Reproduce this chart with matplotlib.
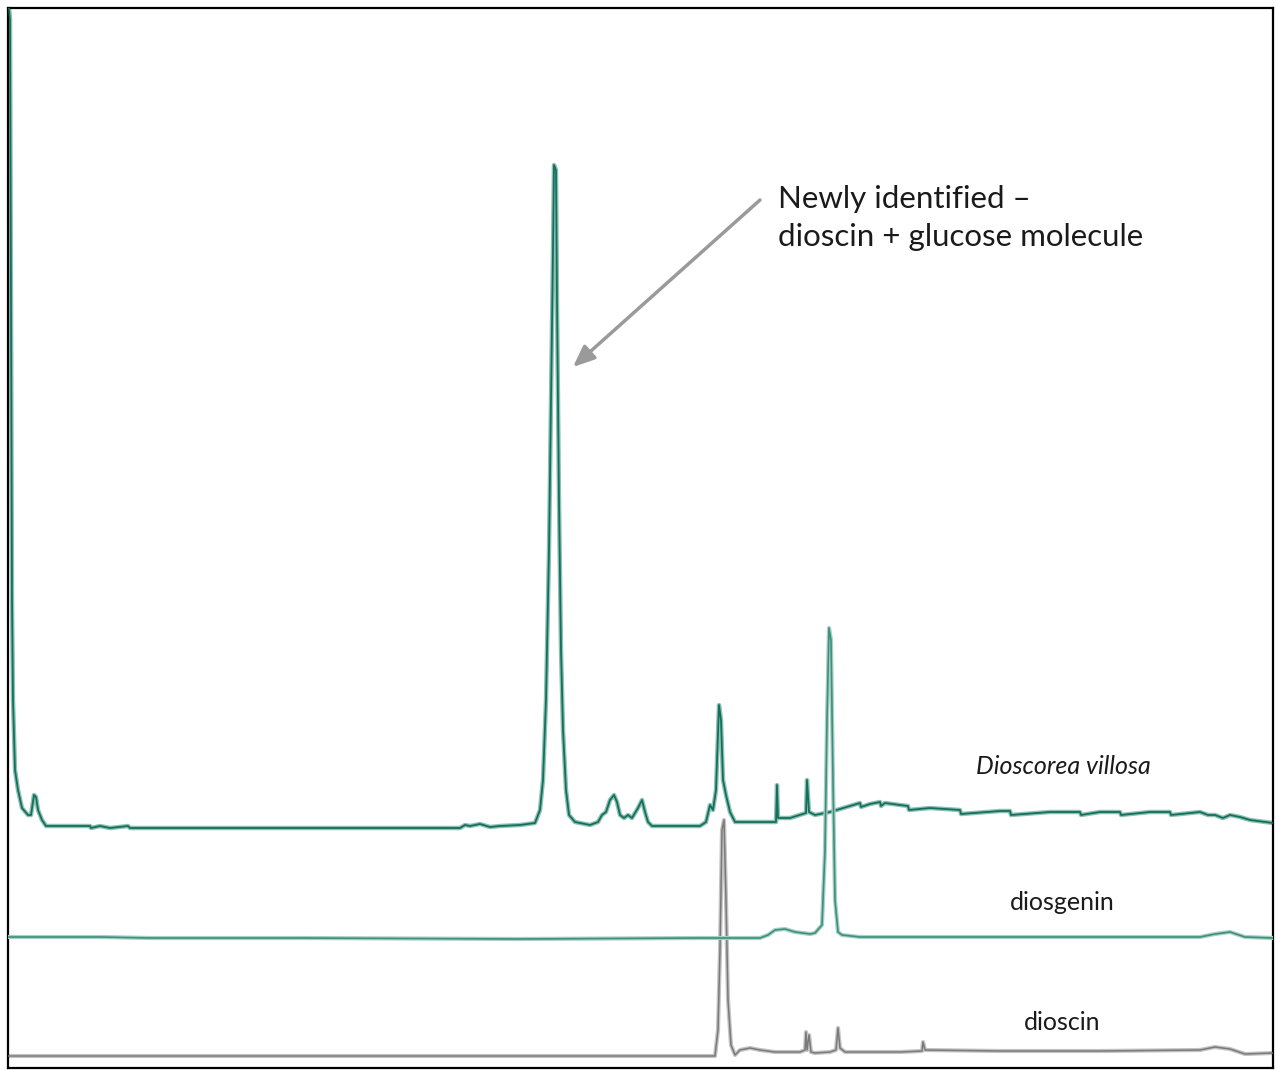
import numpy as np
import matplotlib
matplotlib.use('Agg')
import matplotlib.pyplot as plt

# traces: retention position (px from left frame) and height (px above bottom frame)
# Dioscorea villosa extract
villosa_x = [1, 2, 3, 4, 5, 7, 10, 14, 20, 23, 26, 28, 30, 34, 38, 82, 83, 92, 102, 120, 122,
             452, 457, 462, 472, 482, 492, 512, 527, 532, 535, 538, 541, 543, 545, 546, 548, 549,
             551, 553, 555, 558, 561, 567, 582, 590, 594, 598, 602, 606, 609, 612, 616, 620, 624,
             630, 634, 637, 640, 644, 692, 698, 702, 705, 708, 711, 713, 715, 718, 722, 727, 768,
             769, 770, 782, 798, 799, 801, 807, 822, 842, 852, 853, 862, 872, 873, 877, 892, 900,
             901, 922, 952, 953, 992, 1002, 1003, 1042, 1072, 1073, 1092, 1112, 1113, 1142, 1162,
             1163, 1192, 1200, 1207, 1215, 1222, 1232, 1242, 1265]
villosa_y = [1060, 1048, 768, 468, 368, 298, 278, 260, 253, 253, 273, 271, 258, 248, 242, 242, 240,
             242, 240, 242, 240, 240, 243, 242, 244, 241, 242, 243, 245, 258, 288, 368, 518, 668,
             818, 903, 898, 768, 568, 418, 338, 278, 253, 246, 243, 246, 253, 256, 268, 273, 266,
             253, 250, 253, 250, 260, 268, 256, 246, 242, 242, 246, 263, 258, 278, 363, 348, 288,
             273, 256, 246, 246, 283, 250, 250, 255, 288, 256, 253, 256, 262, 265, 261, 264, 266,
             262, 265, 263, 262, 258, 260, 258, 254, 257, 257, 253, 256, 256, 253, 256, 256, 253,
             256, 256, 253, 256, 253, 253, 250, 253, 251, 248, 245]

# diosgenin standard
diosgenin_x = [0, 92, 142, 292, 512, 692, 752, 760, 767, 777, 787, 802, 807, 814, 817, 819, 821,
               823, 825, 827, 830, 834, 852, 892, 992, 1092, 1192, 1207, 1222, 1237, 1265]
diosgenin_y = [131, 131, 130, 130, 129, 130, 130, 133, 138, 139, 136, 134, 135, 143, 218, 348, 440,
               428, 288, 168, 136, 133, 131, 131, 131, 131, 131, 134, 136, 131, 130]

# dioscin standard
dioscin_x = [0, 192, 492, 707, 710, 712, 714, 716, 718, 720, 723, 727, 732, 742, 752, 767, 792,
             797, 798, 799, 801, 803, 807, 822, 828, 830, 832, 837, 892, 914, 915, 917, 992, 1092,
             1192, 1207, 1222, 1237, 1265]
dioscin_y = [12, 12, 12, 12, 38, 118, 238, 248, 168, 68, 23, 13, 18, 20, 18, 16, 16, 18, 36, 18,
             33, 16, 15, 16, 18, 40, 20, 16, 16, 17, 26, 18, 17, 17, 18, 21, 19, 14, 15]

trace_labels = ['Dioscorea villosa', 'diosgenin', 'dioscin']
note_text = 'Newly identified \u2013\ndioscin + glucose molecule'

fig = plt.figure(figsize=(12.76, 10.70), dpi=100)
ax = fig.add_axes([8 / 1276, 2 / 1070, 1265 / 1276, 1060 / 1070])

ax.plot(villosa_x, villosa_y, color='#8fc0b3', lw=3.2, solid_joinstyle='round', zorder=2)
ax.plot(villosa_x, villosa_y, color='#12705d', lw=1.3, solid_joinstyle='round', zorder=3)
ax.plot(diosgenin_x, diosgenin_y, color='#a9d0c5', lw=3.0, solid_joinstyle='round', zorder=4)
ax.plot(diosgenin_x, diosgenin_y, color='#3e8f7c', lw=1.2, solid_joinstyle='round', zorder=5)
ax.plot(dioscin_x, dioscin_y, color='#c4c4c4', lw=3.0, solid_joinstyle='round', zorder=2)
ax.plot(dioscin_x, dioscin_y, color='#7a7a7a', lw=1.1, solid_joinstyle='round', zorder=3)

ax.set_xlim(0, 1265)
ax.set_ylim(0, 1060)
ax.set_xticks([])
ax.set_yticks([])
for s in ax.spines.values():
    s.set_linewidth(1.6)
    s.set_color('black')

ax.annotate('', xy=(565, 701), xytext=(752, 868),
            arrowprops=dict(arrowstyle='-|>,head_length=1.3,head_width=0.55',
                            color='#9a9a9a', lw=2.5, shrinkA=0, shrinkB=0))
ax.text(770, 850, note_text, fontsize=22.5, family='Lato', color='#1a1a1a',
        ha='left', va='center', linespacing=1.45)

ax.text(1055, 301, trace_labels[0], fontsize=18, family='Lato', style='italic',
        color='#1a1a1a', ha='center', va='center')
ax.text(1054, 166, trace_labels[1], fontsize=18, family='Lato', color='#1a1a1a',
        ha='center', va='center')
ax.text(1054, 46, trace_labels[2], fontsize=18, family='Lato', color='#1a1a1a',
        ha='center', va='center')

fig.savefig('out.png', dpi=100)
